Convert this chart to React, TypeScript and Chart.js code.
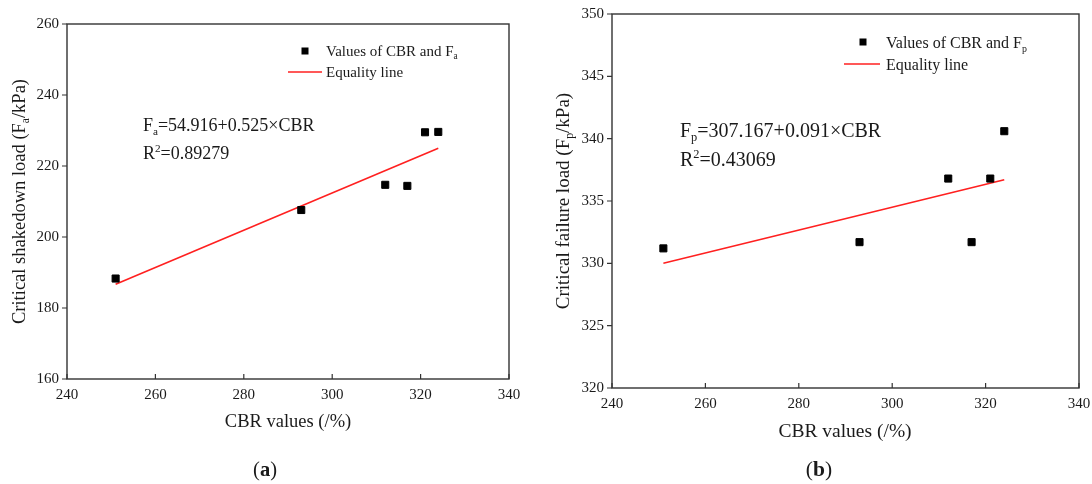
import React, { useEffect, useRef } from "react";
import { Chart, registerables } from "chart.js";

Chart.register(...registerables);

// ---------- data ----------
const xTicks = [240, 260, 280, 300, 320, 340];

const cbrA = [251, 293, 312, 317, 321, 324];
const shakedownA = [188.3, 207.6, 214.7, 214.4, 229.5, 229.6];
const fitAx = [251, 324];
const fitAy = [186.7, 225.0];
const yTicksA = [160, 180, 200, 220, 240, 260];

const cbrB = [251, 293, 312, 317, 321, 324];
const failureB = [331.2, 331.7, 336.8, 331.7, 336.8, 340.6];
const fitBx = [251, 324];
const fitBy = [330.0, 336.7];
const yTicksB = [320, 325, 330, 335, 340, 345, 350];

const FONT = '"Liberation Serif", "Times New Roman", serif';
const TEXT = "#1a1a1a";
const AXIS = "#333333";
const RED = "#ff2020";

type Seg = { t: string; s?: "sub" | "sup"; b?: boolean };

interface Panel {
  w: number;
  h: number;
  left: number;
  right: number;
  top: number;
  bottom: number;
  xs: number[];
  ys: number[];
  fx: number[];
  fy: number[];
  yTicks: number[];
  yMin: number;
  yMax: number;
  tickSize: number;
  yTitle: Seg[];
  yTitleX: number;
  yTitleSize: number;
  xTitleX: number;
  xTitleBase: number;
  xTitleSize: number;
  panelLabel: Seg[];
  panelX: number;
  panelBase: number;
  eq1: Seg[];
  eq2: Seg[];
  eqX: number;
  eq1Base: number;
  eq2Base: number;
  eqSize: number;
  legPts: Seg[];
  legMarkX: number;
  legMarkY: number;
  legTextX: number;
  leg1Base: number;
  leg2Base: number;
  legLineX1: number;
  legLineX2: number;
  legLineY: number;
  legSize: number;
}

function measureRich(ctx: CanvasRenderingContext2D, segs: Seg[], size: number) {
  let total = 0;
  for (const sg of segs) {
    ctx.font = `${sg.b ? "bold " : ""}${sg.s ? size * 0.62 : size}px ${FONT}`;
    total += ctx.measureText(sg.t).width;
  }
  return total;
}

function drawRich(
  ctx: CanvasRenderingContext2D,
  segs: Seg[],
  x: number,
  y: number,
  size: number,
  align: "left" | "center"
) {
  ctx.textAlign = "left";
  ctx.textBaseline = "alphabetic";
  ctx.fillStyle = TEXT;
  const total = measureRich(ctx, segs, size);
  let cx = align === "center" ? x - total / 2 : x;
  for (const sg of segs) {
    ctx.font = `${sg.b ? "bold " : ""}${sg.s ? size * 0.62 : size}px ${FONT}`;
    const dy = sg.s === "sub" ? size * 0.22 : sg.s === "sup" ? -size * 0.38 : 0;
    ctx.fillText(sg.t, cx, y + dy);
    cx += ctx.measureText(sg.t).width;
  }
}

function annotPlugin(p: Panel) {
  return {
    id: "annot",
    afterDraw(chart: any) {
      const { ctx, chartArea: ca, scales } = chart;
      ctx.save();
      // frame
      ctx.strokeStyle = AXIS;
      ctx.lineWidth = 1.4;
      ctx.strokeRect(ca.left, ca.top, ca.right - ca.left, ca.bottom - ca.top);
      // tick marks: x inward, y outward
      ctx.lineWidth = 1.2;
      ctx.beginPath();
      for (const t of scales.x.ticks) {
        const px = scales.x.getPixelForValue(t.value);
        ctx.moveTo(px, ca.bottom);
        ctx.lineTo(px, ca.bottom - 5);
      }
      for (const t of scales.y.ticks) {
        const py = scales.y.getPixelForValue(t.value);
        ctx.moveTo(ca.left - 5, py);
        ctx.lineTo(ca.left, py);
      }
      ctx.stroke();

      // y title (rotated)
      ctx.save();
      ctx.translate(p.yTitleX, (ca.top + ca.bottom) / 2);
      ctx.rotate(-Math.PI / 2);
      drawRich(ctx, p.yTitle, 0, 0, p.yTitleSize, "center");
      ctx.restore();

      // x title
      drawRich(ctx, [{ t: "CBR values (/%)" }], p.xTitleX, p.xTitleBase, p.xTitleSize, "center");
      // panel label
      drawRich(ctx, p.panelLabel, p.panelX, p.panelBase, p.xTitleSize + 2, "center");

      // equation
      drawRich(ctx, p.eq1, p.eqX, p.eq1Base, p.eqSize, "left");
      drawRich(ctx, p.eq2, p.eqX, p.eq2Base, p.eqSize, "left");

      // legend
      const m = 7;
      ctx.fillStyle = "#000";
      ctx.fillRect(p.legMarkX - m / 2, p.legMarkY - m / 2, m, m);
      drawRich(ctx, p.legPts, p.legTextX, p.leg1Base, p.legSize, "left");
      ctx.strokeStyle = RED;
      ctx.lineWidth = 1.6;
      ctx.beginPath();
      ctx.moveTo(p.legLineX1, p.legLineY);
      ctx.lineTo(p.legLineX2, p.legLineY);
      ctx.stroke();
      drawRich(ctx, [{ t: "Equality line" }], p.legTextX, p.leg2Base, p.legSize, "left");
      ctx.restore();
    },
  };
}

function zeroPad(s: any) {
  s.paddingLeft = 0;
  s.paddingRight = 0;
  s.paddingTop = 0;
  s.paddingBottom = 0;
}

function makeConfig(p: Panel): any {
  const tickFont = { family: FONT, size: p.tickSize };
  return {
    type: "scatter",
    data: {
      datasets: [
        {
          label: "points",
          data: p.xs.map((x, i) => ({ x, y: p.ys[i] })),
          pointStyle: "rect",
          pointRadius: 5,
          pointHoverRadius: 5,
          backgroundColor: "#000",
          borderColor: "#000",
          borderWidth: 1,
          showLine: false,
        },
        {
          label: "Equality line",
          data: p.fx.map((x, i) => ({ x, y: p.fy[i] })),
          showLine: true,
          pointRadius: 0,
          pointHoverRadius: 0,
          borderColor: RED,
          borderWidth: 1.6,
          fill: false,
        },
      ],
    },
    options: {
      animation: false,
      responsive: false,
      maintainAspectRatio: false,
      events: [],
      layout: { padding: { top: p.top, right: p.w - p.right, left: 0, bottom: 0 } },
      plugins: { legend: { display: false }, tooltip: { enabled: false }, title: { display: false } },
      scales: {
        x: {
          type: "linear",
          min: 240,
          max: 340,
          afterBuildTicks: (s: any) => {
            s.ticks = xTicks.map((v) => ({ value: v }));
          },
          afterFit: (s: any) => {
            s.height = p.h - p.bottom;
            zeroPad(s);
          },
          grid: { display: false, drawTicks: false },
          border: { display: false },
          ticks: { font: tickFont, color: TEXT, padding: 7, maxRotation: 0, autoSkip: false },
        },
        y: {
          type: "linear",
          min: p.yMin,
          max: p.yMax,
          afterBuildTicks: (s: any) => {
            s.ticks = p.yTicks.map((v) => ({ value: v }));
          },
          afterFit: (s: any) => {
            s.width = p.left;
            zeroPad(s);
          },
          grid: { display: false, drawTicks: false },
          border: { display: false },
          ticks: { font: tickFont, color: TEXT, padding: 8, autoSkip: false },
        },
      },
    },
    plugins: [annotPlugin(p)],
  };
}

const panelA: Panel = {
  w: 546,
  h: 484,
  left: 67,
  right: 509,
  top: 24,
  bottom: 379,
  xs: cbrA,
  ys: shakedownA,
  fx: fitAx,
  fy: fitAy,
  yTicks: yTicksA,
  yMin: 160,
  yMax: 260,
  tickSize: 15,
  yTitle: [{ t: "Critical shakedown load (F" }, { t: "a", s: "sub" }, { t: "/kPa)" }],
  yTitleX: 25,
  yTitleSize: 18.5,
  xTitleX: 288,
  xTitleBase: 427,
  xTitleSize: 18.5,
  panelLabel: [{ t: "(" }, { t: "a", b: true }, { t: ")" }],
  panelX: 265,
  panelBase: 476,
  eq1: [{ t: "F" }, { t: "a", s: "sub" }, { t: "=54.916+0.525×CBR" }],
  eq2: [{ t: "R" }, { t: "2", s: "sup" }, { t: "=0.89279" }],
  eqX: 143,
  eq1Base: 131,
  eq2Base: 159,
  eqSize: 18,
  legPts: [{ t: "Values of CBR and F" }, { t: "a", s: "sub" }],
  legMarkX: 305,
  legMarkY: 51,
  legTextX: 326,
  leg1Base: 56,
  leg2Base: 77,
  legLineX1: 288,
  legLineX2: 322,
  legLineY: 72,
  legSize: 15,
};

const panelB: Panel = {
  w: 546,
  h: 484,
  left: 66,
  right: 533,
  top: 14,
  bottom: 388,
  xs: cbrB,
  ys: failureB,
  fx: fitBx,
  fy: fitBy,
  yTicks: yTicksB,
  yMin: 320,
  yMax: 350,
  tickSize: 15,
  yTitle: [{ t: "Critical failure load (F" }, { t: "p", s: "sub" }, { t: "/kPa)" }],
  yTitleX: 23,
  yTitleSize: 19,
  xTitleX: 299,
  xTitleBase: 437,
  xTitleSize: 19.5,
  panelLabel: [{ t: "(" }, { t: "b", b: true }, { t: ")" }],
  panelX: 273,
  panelBase: 476,
  eq1: [{ t: "F" }, { t: "p", s: "sub" }, { t: "=307.167+0.091×CBR" }],
  eq2: [{ t: "R" }, { t: "2", s: "sup" }, { t: "=0.43069" }],
  eqX: 134,
  eq1Base: 137,
  eq2Base: 166,
  eqSize: 20,
  legPts: [{ t: "Values of CBR and F" }, { t: "p", s: "sub" }],
  legMarkX: 317,
  legMarkY: 42,
  legTextX: 340,
  leg1Base: 48,
  leg2Base: 70,
  legLineX1: 298,
  legLineX2: 334,
  legLineY: 64,
  legSize: 16,
};

function ChartPanel({ panel }: { panel: Panel }) {
  const ref = useRef<HTMLCanvasElement | null>(null);
  useEffect(() => {
    if (!ref.current) return;
    const chart = new Chart(ref.current, makeConfig(panel));
    return () => chart.destroy();
  }, [panel]);
  return (
    <canvas
      ref={ref}
      width={panel.w}
      height={panel.h}
      style={{ width: panel.w, height: panel.h, display: "block" }}
    />
  );
}

export default function App() {
  return (
    <div
      style={{
        position: "fixed",
        left: 0,
        top: 0,
        width: 1092,
        height: 484,
        background: "#fff",
        display: "flex",
      }}
    >
      <ChartPanel panel={panelA} />
      <ChartPanel panel={panelB} />
    </div>
  );
}
